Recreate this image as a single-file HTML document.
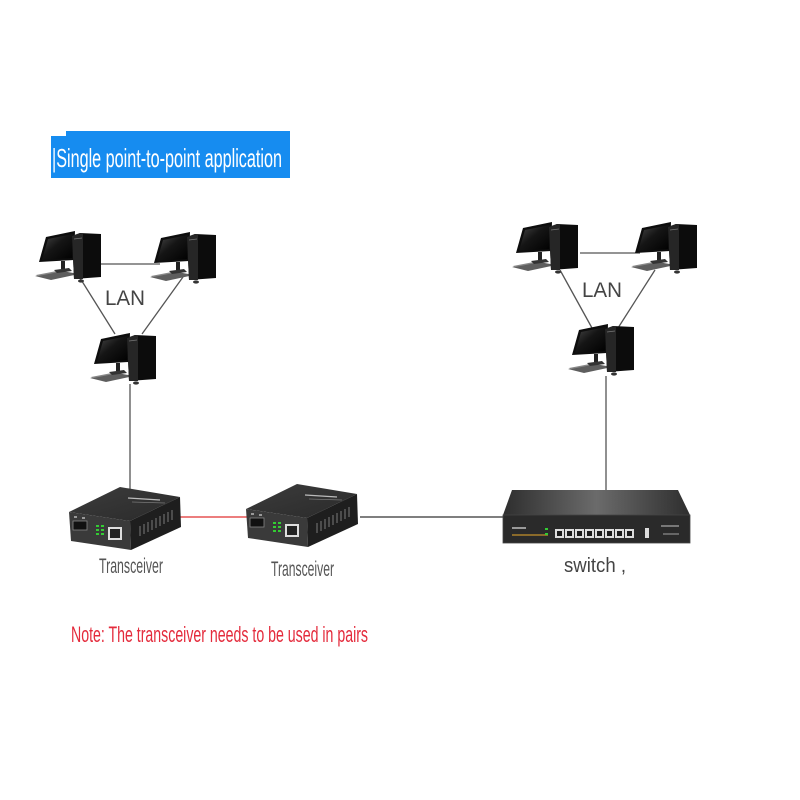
<!DOCTYPE html>
<html><head><meta charset="utf-8"><style>
html,body{margin:0;padding:0;background:#fff}
svg{display:block}
text{font-family:"Liberation Sans",sans-serif}
</style></head><body>
<svg width="800" height="800" viewBox="0 0 800 800" xmlns="http://www.w3.org/2000/svg">
<defs>
<linearGradient id="scr" x1="0" y1="0" x2="1" y2="1">
<stop offset="0" stop-color="#4a4a4a"/><stop offset="0.45" stop-color="#151515"/><stop offset="1" stop-color="#000"/>
</linearGradient>
<linearGradient id="swtop" x1="0" y1="0" x2="1" y2="0">
<stop offset="0" stop-color="#2e2e2e"/><stop offset="0.5" stop-color="#6b6b6b"/><stop offset="1" stop-color="#2e2e2e"/>
</linearGradient>
<linearGradient id="trtop" x1="0" y1="0" x2="1" y2="1">
<stop offset="0" stop-color="#3c3c3c"/><stop offset="1" stop-color="#2a2a2a"/>
</linearGradient>
<g id="pc">
<polygon points="0,47 27,42 44,45 16,51" fill="#5e5e5e"/>
<polygon points="1,46 27,41 29,42 3,47" fill="#888"/>
<polygon points="11,8 40,2 39,31 4,33" fill="#0d0d0d"/>
<polygon points="13,10 38,5 37,29 7,31" fill="url(#scr)"/>
<rect x="26" y="32" width="4" height="8" fill="#222"/>
<polygon points="19,41 34,39 37,42 22,44" fill="#333"/>
<polygon points="37,7 45,4 66,5 66,48 39,50" fill="#0c0c0c"/>
<polygon points="37,7 45,4 48,5 48,50 39,50" fill="#262626"/>
<line x1="39" y1="10" x2="47" y2="9" stroke="#777" stroke-width="0.8"/>
<ellipse cx="46" cy="52" rx="3" ry="1.6" fill="#333"/>
</g>
<g id="tr">
<polygon points="69,512 120,487 180,497 130,521" fill="url(#trtop)"/>
<polygon points="69,512 130,521 131,550 71,541" fill="#3a3a3a"/>
<polygon points="130,521 180,497 181,527 131,550" fill="#1e1e1e"/>
<g stroke="#6a6a6a" stroke-width="1.2">
<line x1="140" y1="526" x2="140" y2="536"/><line x1="144" y1="524" x2="144" y2="534"/>
<line x1="148" y1="522" x2="148" y2="532"/><line x1="152" y1="520" x2="152" y2="530"/>
<line x1="156" y1="518" x2="156" y2="528"/><line x1="160" y1="516" x2="160" y2="526"/>
<line x1="164" y1="514" x2="164" y2="524"/><line x1="168" y1="512" x2="168" y2="522"/>
<line x1="172" y1="510" x2="172" y2="520"/>
</g>
<line x1="128" y1="498" x2="160" y2="500" stroke="#bbb" stroke-width="1.2"/>
<line x1="132" y1="502" x2="165" y2="503" stroke="#777" stroke-width="0.8"/>
<rect x="73" y="521" width="14" height="9" fill="#111" stroke="#888" stroke-width="0.8"/>
<rect x="96" y="525" width="3" height="2" fill="#3c3"/><rect x="101" y="525" width="3" height="2" fill="#3c3"/>
<rect x="96" y="529" width="3" height="2" fill="#3c3"/><rect x="101" y="529" width="3" height="2" fill="#3c3"/>
<rect x="96" y="533" width="3" height="2" fill="#3c3"/><rect x="101" y="533" width="3" height="2" fill="#3c3"/>
<rect x="108" y="527" width="14" height="13" fill="#ddd"/>
<rect x="110" y="529" width="10" height="9" fill="#222"/>
<rect x="74" y="516" width="3" height="2" fill="#999"/><rect x="82" y="517" width="3" height="2" fill="#999"/>
</g>
</defs>

<!-- Title banner -->
<polygon points="51,136 66,136 66,131 290,131 290,178 51,178" fill="#168cf0"/>
<text x="52" y="167" font-size="26" fill="#fff" textLength="230" lengthAdjust="spacingAndGlyphs">|Single point-to-point application</text>

<g stroke="#555" stroke-width="1.3" fill="none">
<line x1="100" y1="264" x2="160" y2="264"/>
<line x1="80" y1="278" x2="115" y2="334"/>
<line x1="183" y1="277" x2="142" y2="334"/>
<line x1="580" y1="253" x2="640" y2="253"/>
<line x1="560" y1="270" x2="592" y2="328"/>
<line x1="655" y1="270" x2="618" y2="328"/>
<line x1="130" y1="384" x2="130" y2="490"/>
<line x1="606" y1="376" x2="606" y2="492"/>
<line x1="360" y1="517" x2="504" y2="517" stroke="#333"/>
</g>
<line x1="180" y1="517" x2="248" y2="517" stroke="#e03030" stroke-width="1.3"/>

<use href="#pc" x="35" y="229"/>
<use href="#pc" x="150" y="230"/>
<use href="#pc" x="90" y="331"/>
<use href="#pc" x="512" y="220"/>
<use href="#pc" x="631" y="220"/>
<use href="#pc" x="568" y="322"/>

<text x="105" y="305" font-size="21" fill="#444" textLength="40" lengthAdjust="spacingAndGlyphs">LAN</text>
<text x="582" y="297" font-size="21" fill="#444" textLength="40" lengthAdjust="spacingAndGlyphs">LAN</text>

<use href="#tr" x="0" y="0"/>
<use href="#tr" x="177" y="-3"/>

<polygon points="512,490 678,490 690,515 503,515" fill="url(#swtop)"/>
<rect x="503" y="515" width="187" height="28" fill="#2a2a2a" stroke="#444" stroke-width="0.8"/>
<rect x="512" y="527" width="14" height="2" fill="#999"/>
<rect x="512" y="534" width="36" height="2" fill="#8a6a2a"/>
<rect x="545" y="528" width="3" height="2" fill="#3c3"/><rect x="545" y="533" width="3" height="2" fill="#3c3"/>
<g fill="#ddd">
<rect x="555" y="529" width="9" height="9"/><rect x="565" y="529" width="9" height="9"/>
<rect x="575" y="529" width="9" height="9"/><rect x="585" y="529" width="9" height="9"/>
<rect x="595" y="529" width="9" height="9"/><rect x="605" y="529" width="9" height="9"/>
<rect x="615" y="529" width="9" height="9"/><rect x="625" y="529" width="9" height="9"/>
</g>
<g fill="#1a1a1a">
<rect x="557" y="531" width="5" height="5"/><rect x="567" y="531" width="5" height="5"/>
<rect x="577" y="531" width="5" height="5"/><rect x="587" y="531" width="5" height="5"/>
<rect x="597" y="531" width="5" height="5"/><rect x="607" y="531" width="5" height="5"/>
<rect x="617" y="531" width="5" height="5"/><rect x="627" y="531" width="5" height="5"/>
</g>
<rect x="645" y="528" width="4" height="10" fill="#ddd"/>
<rect x="661" y="525" width="18" height="2" fill="#777"/>
<rect x="663" y="533" width="16" height="2" fill="#666"/>

<text x="99" y="573" font-size="21" fill="#555" textLength="64" lengthAdjust="spacingAndGlyphs">Transceiver</text>
<text x="271" y="576" font-size="21" fill="#555" textLength="63" lengthAdjust="spacingAndGlyphs">Transceiver</text>
<text x="564" y="572" font-size="20" fill="#444" textLength="62" lengthAdjust="spacingAndGlyphs">switch ,</text>
<text x="71" y="642" font-size="22" fill="#e42b3c" textLength="297" lengthAdjust="spacingAndGlyphs">Note: The transceiver needs to be used in pairs</text>
</svg>
</body></html>
